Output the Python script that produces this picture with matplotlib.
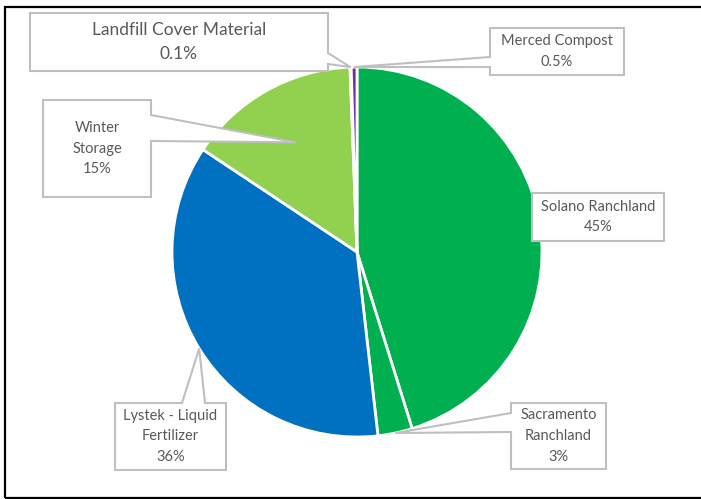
import matplotlib.pyplot as plt
from matplotlib.patches import Polygon, Rectangle
import numpy as np

W, H = 701, 499

# data
categories = ["Solano Ranchland", "Sacramento\nRanchland", "Lystek - Liquid\nFertilizer",
              "Winter\nStorage", "Landfill Cover Material", "Merced Compost"]
percent = [45, 3, 36, 15, 0.1, 0.5]
pct_labels = ["45%", "3%", "36%", "15%", "0.1%", "0.5%"]
colors = ["#00B050", "#00B050", "#0070C0", "#92D050", "#A5A5A5", "#7030A0"]

# callout layout in image pixels (y down): box, side of wedge, wedge base, tip radius fraction
boxes = [(532, 193, 664, 241), (511, 403, 606, 469), (115, 403, 226, 470),
         (43, 100, 151, 197), (30, 13, 328, 71), (490, 28, 624, 75)]
sides = [None, "left", "top", "right", "right", "left"]
bases = [None, (413, 432), (182, 205), (115, 141), (53, 64), (57, 67)]
tip_frac = [None, 1.0, 1.0, 0.68, 1.0, 1.0]
font_sizes = [10.5, 10.5, 10.5, 10.5, 12.5, 10.5]

CX, CY, R = 357, 252, 185


def Y(y):
    return H - y


def callout_vertices(box, side, base, tip):
    x0, y0, x1, y1 = box
    pts = [(x0, y0)]
    if side == "top":
        pts += [(base[0], y0), tip, (base[1], y0)]
    pts.append((x1, y0))
    if side == "right":
        pts += [(x1, base[0]), tip, (x1, base[1])]
    pts.append((x1, y1))
    if side == "bottom":
        pts += [(base[1], y1), tip, (base[0], y1)]
    pts.append((x0, y1))
    if side == "left":
        pts += [(x0, base[1]), tip, (x0, base[0])]
    return [(x, Y(y)) for x, y in pts]


plt.rcParams['font.family'] = ['Lato', 'DejaVu Sans']
fig = plt.figure(figsize=(W / 100, H / 100), dpi=100)
ax = fig.add_axes([0, 0, 1, 1])

wedges, _ = ax.pie(percent, colors=colors, startangle=90, counterclock=False,
                   center=(CX, Y(CY)), radius=R, frame=True,
                   wedgeprops=dict(edgecolor="white", linewidth=2))
ax.set_xlim(0, W)
ax.set_ylim(0, H)
ax.set_aspect("equal")
ax.axis("off")

for i, w in enumerate(wedges):
    box = boxes[i]
    if sides[i] is not None:
        mid = np.deg2rad((w.theta1 + w.theta2) / 2)
        tx = CX + tip_frac[i] * R * np.cos(mid)
        ty = CY - tip_frac[i] * R * np.sin(mid)
        verts = callout_vertices(box, sides[i], bases[i], (tx, ty))
    else:
        verts = callout_vertices(box, None, None, None)
    ax.add_patch(Polygon(verts, closed=True, facecolor="white", edgecolor="#BFBFBF",
                         linewidth=1.5, zorder=3))
    ax.text((box[0] + box[2]) / 2, Y((box[1] + box[3]) / 2),
            categories[i] + "\n" + pct_labels[i], ha="center", va="center",
            fontsize=font_sizes[i], color="#595959", linespacing=1.6, zorder=4)

# outer chart border
fig.patches.append(Rectangle((4.5, 1.5), W, H - 8, transform=None, fill=False,
                             edgecolor="black", linewidth=1.6))

fig.savefig("out.png", dpi=100, facecolor="white")
